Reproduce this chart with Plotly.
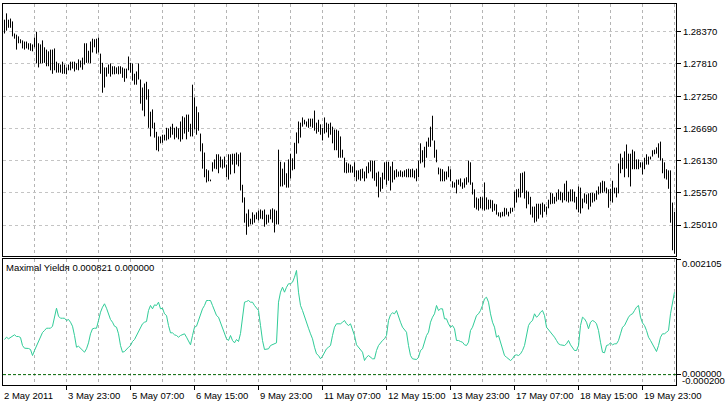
import plotly.graph_objects as go

# ---------------- data ----------------
high = [
    1.2858, 1.2869, 1.2858, 1.2860, 1.2855, 1.2834, 1.2832, 1.2829, 1.2824, 1.2822,
    1.2820, 1.2820, 1.2817, 1.2817, 1.2815, 1.2827, 1.2837, 1.2817, 1.2815, 1.2822,
    1.2810, 1.2806, 1.2803, 1.2806, 1.2806, 1.2808, 1.2785, 1.2782, 1.2780, 1.2785,
    1.2780, 1.2775, 1.2780, 1.2785, 1.2785, 1.2785, 1.2782, 1.2789, 1.2787, 1.2792,
    1.2817, 1.2817, 1.2804, 1.2820, 1.2825, 1.2824, 1.2825, 1.2827, 1.2799, 1.2783,
    1.2775, 1.2775, 1.2780, 1.2782, 1.2777, 1.2777, 1.2775, 1.2777, 1.2777, 1.2775,
    1.2773, 1.2773, 1.2794, 1.2783, 1.2782, 1.2764, 1.2768, 1.2782, 1.2754, 1.2740,
    1.2747, 1.2750, 1.2737, 1.2698, 1.2702, 1.2679, 1.2663, 1.2655, 1.2655, 1.2658,
    1.2658, 1.2670, 1.2669, 1.2672, 1.2677, 1.2670, 1.2672, 1.2669, 1.2681, 1.2690,
    1.2688, 1.2693, 1.2693, 1.2677, 1.2745, 1.2723, 1.2707, 1.2697, 1.2660, 1.2643,
    1.2627, 1.2598, 1.2596, 1.2580, 1.2610, 1.2615, 1.2624, 1.2624, 1.2620, 1.2615,
    1.2620, 1.2606, 1.2624, 1.2624, 1.2625, 1.2625, 1.2627, 1.2624, 1.2627, 1.2571,
    1.2549, 1.2521, 1.2528, 1.2512, 1.2523, 1.2519, 1.2523, 1.2526, 1.2528, 1.2526,
    1.2528, 1.2519, 1.2519, 1.2528, 1.2530, 1.2528, 1.2526, 1.2632, 1.2611, 1.2599,
    1.2610, 1.2591, 1.2615, 1.2625, 1.2617, 1.2644, 1.2662, 1.2681, 1.2679, 1.2688,
    1.2684, 1.2681, 1.2686, 1.2686, 1.2686, 1.2700, 1.2679, 1.2684, 1.2676, 1.2670,
    1.2688, 1.2679, 1.2677, 1.2679, 1.2672, 1.2667, 1.2667, 1.2665, 1.2655, 1.2632,
    1.2618, 1.2610, 1.2608, 1.2606, 1.2603, 1.2610, 1.2596, 1.2596, 1.2598, 1.2599,
    1.2594, 1.2603, 1.2610, 1.2613, 1.2613, 1.2613, 1.2592, 1.2594, 1.2584, 1.2592,
    1.2610, 1.2611, 1.2611, 1.2603, 1.2611, 1.2596, 1.2598, 1.2594, 1.2596, 1.2594,
    1.2596, 1.2598, 1.2599, 1.2598, 1.2599, 1.2596, 1.2599, 1.2613, 1.2643, 1.2631,
    1.2637, 1.2646, 1.2653, 1.2672, 1.2691, 1.2648, 1.2632, 1.2601, 1.2599, 1.2598,
    1.2594, 1.2594, 1.2603, 1.2598, 1.2577, 1.2575, 1.2580, 1.2580, 1.2582, 1.2575,
    1.2582, 1.2584, 1.2613, 1.2610, 1.2575, 1.2563, 1.2549, 1.2547, 1.2550, 1.2549,
    1.2575, 1.2549, 1.2545, 1.2545, 1.2544, 1.2538, 1.2537, 1.2523, 1.2523, 1.2524,
    1.2531, 1.2530, 1.2524, 1.2531, 1.2531, 1.2559, 1.2563, 1.2564, 1.2591, 1.2592,
    1.2594, 1.2561, 1.2559, 1.2550, 1.2533, 1.2533, 1.2538, 1.2538, 1.2538, 1.2540,
    1.2537, 1.2533, 1.2545, 1.2557, 1.2556, 1.2550, 1.2557, 1.2563, 1.2559, 1.2557,
    1.2573, 1.2578, 1.2559, 1.2563, 1.2563, 1.2559, 1.2550, 1.2568, 1.2566, 1.2547,
    1.2556, 1.2554, 1.2556, 1.2557, 1.2557, 1.2556, 1.2561, 1.2568, 1.2575, 1.2578,
    1.2577, 1.2566, 1.2563, 1.2564, 1.2578, 1.2566, 1.2566, 1.2608, 1.2625, 1.2618,
    1.2629, 1.2641, 1.2625, 1.2625, 1.2632, 1.2629, 1.2615, 1.2615, 1.2610, 1.2610,
    1.2618, 1.2624, 1.2620, 1.2620, 1.2631, 1.2632, 1.2636, 1.2643, 1.2646, 1.2617,
    1.2610, 1.2598, 1.2596, 1.2596, 1.2540, 1.2524,
]

low = [
    1.2834, 1.2839, 1.2844, 1.2844, 1.2829, 1.2825, 1.2806, 1.2817, 1.2817, 1.2808,
    1.2806, 1.2808, 1.2806, 1.2804, 1.2803, 1.2810, 1.2782, 1.2775, 1.2782, 1.2782,
    1.2783, 1.2777, 1.2777, 1.2770, 1.2764, 1.2770, 1.2766, 1.2766, 1.2766, 1.2764,
    1.2764, 1.2763, 1.2770, 1.2770, 1.2773, 1.2768, 1.2771, 1.2770, 1.2775, 1.2771,
    1.2780, 1.2783, 1.2783, 1.2782, 1.2801, 1.2810, 1.2799, 1.2801, 1.2764, 1.2731,
    1.2740, 1.2759, 1.2764, 1.2759, 1.2763, 1.2763, 1.2764, 1.2763, 1.2764, 1.2757,
    1.2750, 1.2756, 1.2770, 1.2766, 1.2752, 1.2745, 1.2745, 1.2754, 1.2712, 1.2700,
    1.2690, 1.2719, 1.2670, 1.2655, 1.2669, 1.2653, 1.2631, 1.2629, 1.2643, 1.2644,
    1.2648, 1.2648, 1.2650, 1.2653, 1.2658, 1.2650, 1.2653, 1.2650, 1.2646, 1.2650,
    1.2660, 1.2650, 1.2663, 1.2655, 1.2655, 1.2667, 1.2658, 1.2665, 1.2629, 1.2599,
    1.2584, 1.2575, 1.2577, 1.2577, 1.2594, 1.2599, 1.2598, 1.2591, 1.2601, 1.2599,
    1.2601, 1.2584, 1.2580, 1.2589, 1.2606, 1.2591, 1.2606, 1.2603, 1.2561, 1.2540,
    1.2505, 1.2484, 1.2498, 1.2502, 1.2502, 1.2505, 1.2511, 1.2509, 1.2512, 1.2511,
    1.2498, 1.2502, 1.2505, 1.2511, 1.2505, 1.2488, 1.2502, 1.2502, 1.2568, 1.2568,
    1.2571, 1.2566, 1.2566, 1.2582, 1.2596, 1.2598, 1.2625, 1.2643, 1.2653, 1.2672,
    1.2676, 1.2672, 1.2670, 1.2672, 1.2670, 1.2665, 1.2660, 1.2663, 1.2658, 1.2648,
    1.2660, 1.2662, 1.2653, 1.2658, 1.2643, 1.2631, 1.2631, 1.2618, 1.2618, 1.2618,
    1.2592, 1.2591, 1.2592, 1.2592, 1.2592, 1.2584, 1.2577, 1.2580, 1.2578, 1.2582,
    1.2577, 1.2582, 1.2591, 1.2594, 1.2582, 1.2578, 1.2568, 1.2549, 1.2559, 1.2564,
    1.2580, 1.2571, 1.2578, 1.2561, 1.2575, 1.2580, 1.2584, 1.2585, 1.2585, 1.2584,
    1.2585, 1.2584, 1.2584, 1.2584, 1.2584, 1.2582, 1.2577, 1.2584, 1.2608, 1.2610,
    1.2601, 1.2618, 1.2637, 1.2637, 1.2648, 1.2618, 1.2610, 1.2589, 1.2577, 1.2577,
    1.2577, 1.2580, 1.2584, 1.2577, 1.2566, 1.2566, 1.2556, 1.2571, 1.2568, 1.2564,
    1.2566, 1.2571, 1.2575, 1.2571, 1.2554, 1.2531, 1.2528, 1.2526, 1.2530, 1.2528,
    1.2526, 1.2528, 1.2528, 1.2530, 1.2524, 1.2526, 1.2519, 1.2516, 1.2514, 1.2516,
    1.2516, 1.2519, 1.2516, 1.2521, 1.2524, 1.2531, 1.2540, 1.2549, 1.2549, 1.2557,
    1.2547, 1.2530, 1.2537, 1.2519, 1.2514, 1.2505, 1.2507, 1.2512, 1.2519, 1.2514,
    1.2524, 1.2519, 1.2530, 1.2537, 1.2538, 1.2538, 1.2542, 1.2545, 1.2544, 1.2540,
    1.2544, 1.2542, 1.2540, 1.2542, 1.2542, 1.2540, 1.2528, 1.2523, 1.2521, 1.2530,
    1.2540, 1.2538, 1.2528, 1.2533, 1.2540, 1.2542, 1.2545, 1.2554, 1.2556, 1.2557,
    1.2559, 1.2556, 1.2531, 1.2542, 1.2540, 1.2556, 1.2549, 1.2556, 1.2591, 1.2598,
    1.2584, 1.2599, 1.2584, 1.2568, 1.2598, 1.2598, 1.2598, 1.2598, 1.2601, 1.2589,
    1.2598, 1.2606, 1.2606, 1.2615, 1.2620, 1.2624, 1.2625, 1.2618, 1.2613, 1.2591,
    1.2582, 1.2580, 1.2564, 1.2505, 1.2457, 1.2451,
]

max_yield = [
    0.000642, 0.000684, 0.000655, 0.000684, 0.000715, 0.000728, 0.000697, 0.000697, 0.000678, 0.000532,
    0.000483, 0.000483, 0.000478, 0.000459, 0.000349, 0.000441, 0.000532, 0.000624, 0.000715, 0.000770,
    0.000806, 0.000848, 0.000848, 0.000848, 0.000885, 0.001050, 0.001214, 0.001068, 0.001031, 0.001031,
    0.001031, 0.000989, 0.001008, 0.000958, 0.000885, 0.000715, 0.000501, 0.000519, 0.000483, 0.000459,
    0.000410, 0.000472, 0.000581, 0.000746, 0.000838, 0.000848, 0.000848, 0.000989, 0.001141, 0.001233,
    0.001295, 0.001214, 0.001112, 0.001008, 0.000958, 0.000885, 0.000867, 0.000746, 0.000532, 0.000410,
    0.000422, 0.000472, 0.000501, 0.000532, 0.000605, 0.000642, 0.000715, 0.000775, 0.000848, 0.000929,
    0.000958, 0.000971, 0.001172, 0.001264, 0.001203, 0.001276, 0.001264, 0.001324, 0.001203, 0.001214,
    0.001112, 0.001081, 0.000898, 0.000764, 0.000764, 0.000728, 0.000715, 0.000684, 0.000715, 0.000728,
    0.000746, 0.000684, 0.000624, 0.000545, 0.000715, 0.000867, 0.000885, 0.000989, 0.001094, 0.001203,
    0.001264, 0.001355, 0.001355, 0.001355, 0.001264, 0.001172, 0.001081, 0.001050, 0.000958, 0.000867,
    0.000775, 0.000655, 0.000624, 0.000715, 0.000624, 0.000581, 0.000642, 0.000605, 0.000752, 0.001020,
    0.001324, 0.001337, 0.001355, 0.001324, 0.001324, 0.001264, 0.001214, 0.001172, 0.000898, 0.000624,
    0.000459, 0.000472, 0.000472, 0.000532, 0.000545, 0.000563, 0.000581, 0.001324, 0.001507, 0.001598,
    0.001507, 0.001598, 0.001661, 0.001661, 0.001690, 0.001781, 0.001904, 0.001507, 0.001264, 0.001172,
    0.001050, 0.000958, 0.000848, 0.000746, 0.000655, 0.000501, 0.000380, 0.000349, 0.000289, 0.000336,
    0.000410, 0.000472, 0.000501, 0.000532, 0.000715, 0.000867, 0.000929, 0.000929, 0.000929, 0.000958,
    0.000989, 0.000929, 0.000898, 0.000929, 0.000838, 0.000715, 0.000545, 0.000501, 0.000472, 0.000410,
    0.000258, 0.000318, 0.000349, 0.000318, 0.000289, 0.000289, 0.000441, 0.000532, 0.000581, 0.000624,
    0.000655, 0.000715, 0.000989, 0.001094, 0.001130, 0.001112, 0.001172, 0.001050, 0.000958, 0.000867,
    0.000825, 0.000775, 0.000532, 0.000349, 0.000289, 0.000276, 0.000276, 0.000318, 0.000441, 0.000472,
    0.000592, 0.000715, 0.000775, 0.000958, 0.001050, 0.001112, 0.001264, 0.001172, 0.001203, 0.001203,
    0.001020, 0.001020, 0.000929, 0.000867, 0.000898, 0.000838, 0.000624, 0.000624, 0.000605, 0.000592,
    0.000545, 0.000532, 0.000592, 0.000806, 0.000867, 0.000989, 0.001081, 0.001112, 0.001172, 0.001264,
    0.001386, 0.001415, 0.001324, 0.001112, 0.000958, 0.000867, 0.000684, 0.000715, 0.000581, 0.000441,
    0.000349, 0.000318, 0.000289, 0.000258, 0.000289, 0.000349, 0.000362, 0.000349, 0.000380, 0.000441,
    0.000532, 0.000715, 0.000898, 0.000958, 0.000989, 0.001112, 0.001050, 0.001081, 0.001141, 0.001172,
    0.001081, 0.000867, 0.000825, 0.000775, 0.000746, 0.000684, 0.000624, 0.000563, 0.000545, 0.000545,
    0.000532, 0.000563, 0.000624, 0.000545, 0.000483, 0.000441, 0.000441, 0.000532, 0.000898, 0.001050,
    0.001020, 0.000958, 0.000838, 0.000958, 0.000989, 0.000971, 0.000929, 0.000806, 0.000592, 0.000410,
    0.000399, 0.000532, 0.000545, 0.000581, 0.000545, 0.000563, 0.000563, 0.000624, 0.000746, 0.000867,
    0.000898, 0.000989, 0.001050, 0.001094, 0.001112, 0.001172, 0.001233, 0.001264, 0.001050, 0.000944,
    0.000898, 0.000806, 0.000684, 0.000624, 0.000563, 0.000483, 0.000422, 0.000532, 0.000684, 0.000746,
    0.000746, 0.000775, 0.000806, 0.001112, 0.001324, 0.001507,
]
signal_level = 0.0

price_ticks = [1.28370, 1.27810, 1.27250, 1.26690, 1.26130, 1.25570, 1.25010]
price_tick_text = ["1.28370", "1.27810", "1.27250", "1.26690", "1.26130", "1.25570", "1.25010"]
ind_ticks = [0.002105, 0.0, -0.000200]
ind_tick_text = ["0.002105", "0.000000", "-0.000200"]
time_labels = ["2 May 2011", "3 May 23:00", "5 May 07:00", "6 May 15:00", "9 May 23:00",
               "11 May 07:00", "12 May 15:00", "13 May 23:00", "17 May 07:00",
               "18 May 15:00", "19 May 23:00"]
time_label_bars = [-0.75, 31, 63, 95, 127, 159, 191, 223, 255, 287, 319]
grid_bars = [15, 31, 47, 63, 79, 95, 111, 127, 143, 159, 175, 191, 207, 223, 239, 255,
             271, 287, 303, 319, 335]
indicator_title = "Maximal Yieldя 0.000821 0.000000"

# ---------------- layout helpers ----------------
W, H = 727, 402
FONT = "Liberation Sans, Arial, sans-serif"
FS = 9.5
GRID = "#B4B4B4"
Y2_RANGE = [-0.00019, 0.002114]


def fx(p):
    return p / W


def fy(p):
    return 1 - p / H


n = len(high)
bar_x, bar_y = [], []
for i in range(n):
    bar_x += [i, i, None]
    bar_y += [low[i], high[i], None]

fig = go.Figure()
fig.add_trace(go.Scatter(x=bar_x, y=bar_y, mode="lines",
                         line=dict(color="black", width=1),
                         xaxis="x", yaxis="y", hoverinfo="skip"))
fig.add_trace(go.Scatter(x=list(range(n)), y=max_yield, mode="lines",
                         line=dict(color="#30CC98", width=1),
                         xaxis="x2", yaxis="y2", hoverinfo="skip"))

xr = [-0.75, 335.75]
xdom = [fx(3), fx(676)]
common_x = dict(domain=xdom, range=xr, showline=True, mirror=True, linecolor="black",
                linewidth=1, zeroline=False, showticklabels=False,
                tickvals=time_label_bars[1:], showgrid=True, gridcolor=GRID,
                griddash="3px,3px", gridwidth=1,
                minor=dict(tickvals=grid_bars, showgrid=True, gridcolor=GRID,
                           griddash="3px,3px", gridwidth=1, ticks=""))

fig.update_layout(
    width=W, height=H, margin=dict(l=0, r=0, t=0, b=0),
    paper_bgcolor="white", plot_bgcolor="white", showlegend=False,
    hovermode=False,
    font=dict(family=FONT, size=FS, color="black"),
    xaxis=dict(anchor="y", ticks="", **common_x),
    xaxis2=dict(anchor="y2", ticks="outside", ticklen=4, tickcolor="black", **common_x),
    yaxis=dict(domain=[fy(256), fy(4)], range=[1.24471, 1.28853], side="right",
               anchor="x", tickvals=price_ticks, ticktext=price_tick_text,
               ticks="outside", ticklen=4, tickcolor="black",
               showgrid=True, gridcolor="#C4C4C4", griddash="3px,3px",
               showline=True, mirror=True, linecolor="black", linewidth=1,
               zeroline=False, tickfont=dict(family=FONT, size=FS, color="black")),
    yaxis2=dict(domain=[fy(385), fy(259)], range=Y2_RANGE, side="right",
                anchor="x2", tickvals=ind_ticks[:2], ticks="outside", ticklen=4,
                tickcolor="black", showticklabels=False, showgrid=False,
                showline=True, mirror=True, linecolor="black", linewidth=1,
                zeroline=False),
)

fig.add_shape(type="line", xref="x2 domain", x0=0, x1=1, yref="y2",
              y0=signal_level, y1=signal_level,
              line=dict(color="#006400", width=1, dash="3px,2px"))

ann = []
for lbl, b in zip(time_labels, time_label_bars):
    ann.append(dict(x=b, xref="x2", y=fy(395), yref="paper", text=lbl,
                    xanchor="left", yanchor="middle", showarrow=False, xshift=-1,
                    font=dict(family=FONT, size=FS, color="black")))
# right-hand labels of the indicator window, kept inside the window like the terminal does
shifts = [-4, 1, 5]
for v, t, s in zip(ind_ticks, ind_tick_text, shifts):
    yv = min(max(v, Y2_RANGE[0]), Y2_RANGE[1])
    ann.append(dict(x=fx(680), xref="paper", y=yv, yref="y2", text=t, xanchor="left",
                    yanchor="middle", showarrow=False, yshift=s,
                    font=dict(family=FONT, size=FS, color="black")))
ann.append(dict(x=fx(4), xref="paper", y=fy(267), yref="paper", text=indicator_title,
                xanchor="left", yanchor="middle", showarrow=False,
                font=dict(family=FONT, size=FS, color="black")))
fig.update_layout(annotations=ann)

fig.write_html(
    "out.html",
    config={"displayModeBar": False},
    post_script="document.body.style.margin='0';document.body.style.overflow='hidden';",
)
